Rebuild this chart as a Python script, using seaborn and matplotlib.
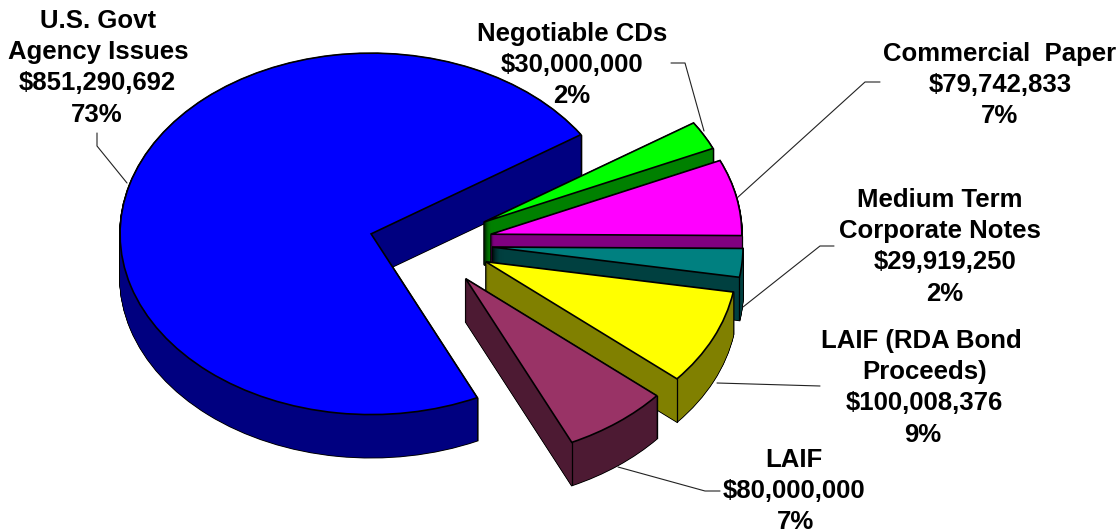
import numpy as np
import matplotlib
matplotlib.use("Agg")
import matplotlib.pyplot as plt
from matplotlib.patches import Wedge
from matplotlib.lines import Line2D
import seaborn as sns

# ---- data (pie order, clockwise from the start angle) ----
categories = [["Negotiable CDs"],
              ["Commercial  Paper"],
              ["Medium Term", "Corporate Notes"],
              ["LAIF (RDA Bond", "Proceeds)"],
              ["LAIF"],
              ["U.S. Govt", "Agency Issues"]]
values = [30000000, 79742833, 29919250, 100008376, 80000000, 851290692]
percents = ["2%", "7%", "2%", "9%", "7%", "73%"]

top_colors = ["#00FF00", "#FF00FF", "#008080", "#FFFF00", "#993366", "#0000FF"]
side_colors = ["#008000", "#800080", "#004040", "#808000", "#4D1A33", "#000080"]
explode = [0.276, 0.276, 0.276, 0.276, 0.28, 0.215]
start_angle = 33.3

# ---- layout in reference pixels ----
W, H = 1120, 531
RADIUS_PX = 251
TILT = 0.72
EXPLODE_TILT = 0.88
CENTER_PX = (423, 243.2)
DEPTH_PX = 43
label_anchor = [(572, 41), (1000, 61), (940, 207), (923, 348), (794, 467), (98, 28)]
label_pitch = 31.2
line_nudge = [[0, 0, 0], [0, 0, 0], [0, 0, 5, 5], [-1.5, 2, 1, 0], [0, 0, 1], [0, 0, -1, -1]]
leaders = [[(671, 63), (685, 63), (704, 131)],
           [(880, 82), (865, 82), (737, 198)],
           [(834, 246), (820, 246), (743, 307)],
           [(820, 386), (717, 383)],
           [(720, 491), (705, 491), (618, 467)],
           [(97, 133), (97, 146), (127, 183)]]

sns.set_theme(style="white")
plt.rcParams["font.family"] = ["Liberation Sans", "DejaVu Sans"]

fig = plt.figure(figsize=(W / 100, H / 100), dpi=100, facecolor="white")
ax = fig.add_axes([0, 0, 1, 1])

wedges, _ = ax.pie(values, explode=explode, colors=sns.color_palette(top_colors),
                   startangle=start_angle, counterclock=False, radius=1.0,
                   wedgeprops=dict(edgecolor="black", linewidth=1.2))

# one unit = RADIUS_PX horizontally, RADIUS_PX*TILT vertically
ax.set_aspect("auto")
ax.set_xlim(-CENTER_PX[0] / RADIUS_PX, (W - CENTER_PX[0]) / RADIUS_PX)
ax.set_ylim(-(H - CENTER_PX[1]) / (RADIUS_PX * TILT), CENTER_PX[1] / (RADIUS_PX * TILT))
ax.axis("off")

depth = DEPTH_PX / (RADIUS_PX * TILT)
step = 0.5 / (RADIUS_PX * TILT)
offsets = np.arange(step, depth + step / 2, step)

for i, w in enumerate(wedges):
    z = 10 * ((i + 1) % len(wedges)) + 10
    cx, cy = w.center
    cy *= EXPLODE_TILT  # explosion is foreshortened a little more than the disc
    w.set_center((cx, cy))
    w.set_zorder(z + 5)
    # black silhouette then coloured extrusion
    for dz in offsets:
        ax.add_patch(Wedge((cx, cy - dz), w.r, w.theta1, w.theta2, facecolor="black",
                           edgecolor="black", linewidth=1.3, zorder=z + 1))
    for dz in offsets:
        ax.add_patch(Wedge((cx, cy - dz), w.r, w.theta1, w.theta2, facecolor=side_colors[i],
                           edgecolor="none", linewidth=0, zorder=z + 2))
    # vertical edge at the front corner of the slice
    x = cx + w.r * np.cos(np.radians(w.theta1))
    y = cy + w.r * np.sin(np.radians(w.theta1))
    ax.plot([x, x], [y, y - depth], color="black", lw=0.9, zorder=z + 3)

def fx(x):
    return x / W

def fy(y):
    return 1 - y / H

for pts in leaders:
    xs, ys = zip(*pts)
    fig.add_artist(Line2D([fx(x) for x in xs], [fy(y) for y in ys], color="#222222",
                          lw=0.8, zorder=50))

for names, val, pct, (x, y), nudge in zip(categories, values, percents, label_anchor, line_nudge):
    lines = names + [f"${val:,}", pct]
    for k, line in enumerate(lines):
        fig.text(fx(x + nudge[k]), fy(y + k * label_pitch), line, ha="center", va="baseline",
                 fontsize=18.5, fontweight="bold", color="black", zorder=60)

fig.savefig("out.png", dpi=100, facecolor="white")
